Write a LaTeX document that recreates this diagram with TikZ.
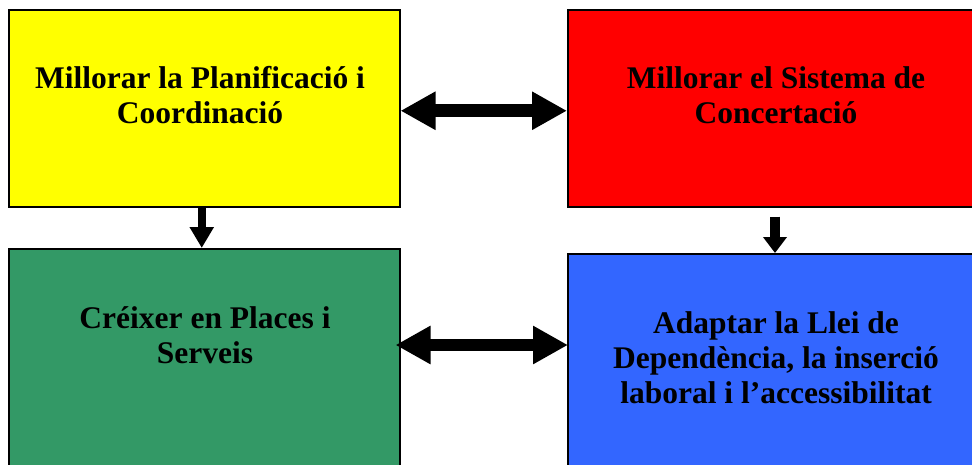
\documentclass[tikz,border=0pt]{standalone}
\usepackage{fontspec}
\setmainfont{Liberation Serif}
\usetikzlibrary{arrows.meta}
\definecolor{cyellow}{HTML}{FFFF00}
\definecolor{cred}{HTML}{FF0000}
\definecolor{cgreen}{HTML}{339966}
\definecolor{cblue}{HTML}{3366FF}
\begin{document}
\begin{tikzpicture}[x=1pt,y=1pt,
  boxstyle/.style={draw=black,line width=1.5pt,rectangle,anchor=north west,inner sep=0pt},
  txt/.style={align=center,font=\fontsize{31.5}{35}\selectfont\bfseries,inner sep=0pt},
  bigarrow/.style={line width=13pt,{Triangle[length=35pt,width=36pt]}-{Triangle[length=35pt,width=36pt]}},
  downarrow/.style={line width=9pt,-{Triangle[length=21pt,width=23pt]}}]
\useasboundingbox (0,0) rectangle (972,-464);
\fill[white] (0,0) rectangle (972,-464);
\node[boxstyle,fill=cyellow,minimum width=391pt,minimum height=197pt] (yb) at (8,-9) {};
\node[boxstyle,fill=cred,minimum width=420pt,minimum height=197pt] (rb) at (567,-9) {};
\node[boxstyle,fill=cgreen,minimum width=391pt,minimum height=230pt] (gb) at (8,-248) {};
\node[boxstyle,fill=cblue,minimum width=420pt,minimum height=225pt] (bb) at (567,-253) {};
\node[txt] (yt) at (200,-95) {Millorar la Planificació i\\Coordinació};
\node[txt] (rt) at (776,-95) {Millorar el Sistema de\\Concertació};
\node[txt] (gt) at (205,-335) {Créixer en Places i\\Serveis};
\node[txt] (bt) at (776,-358) {Adaptar la Llei de\\Dependència, la inserció\\laboral i l’accessibilitat};
\draw[bigarrow] ([yshift=-2.5pt]yb.east) -- ([yshift=-2.5pt]rb.west);
\draw[bigarrow,line width=12pt] ([xshift=-5pt,yshift=-345pt]yb.east |- 0,0) -- ([xshift=1pt,yshift=-345pt]rb.west |- 0,0);
\draw[downarrow,line width=8pt] ([xshift=-2.5pt]yb.south) -- ([xshift=-2.5pt]gb.north);
\coordinate (r2) at ([xshift=-1pt,yshift=-9pt]rb.south -| 776,0);
\draw[downarrow,line width=10pt,-{Triangle[length=16pt,width=23pt]}] (r2) -- (r2 |- bb.north);
\end{tikzpicture}
\end{document}
